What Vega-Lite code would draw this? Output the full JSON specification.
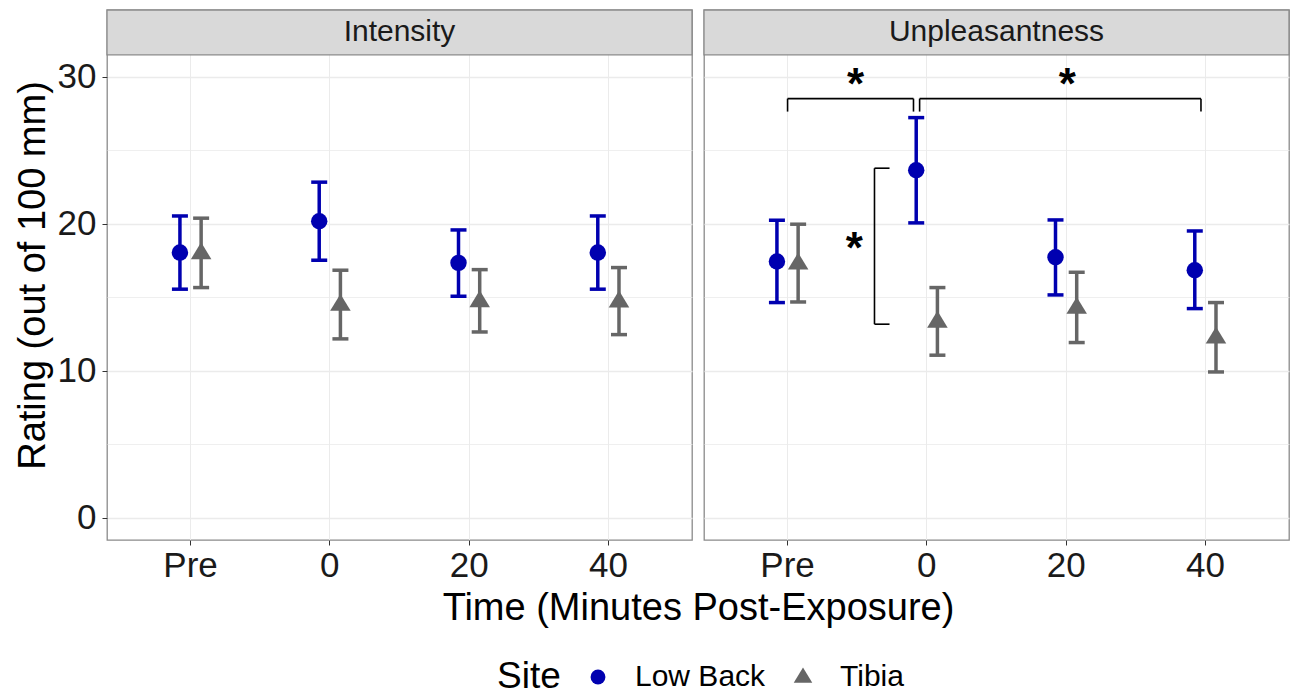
{
  "$schema": "https://vega.github.io/schema/vega-lite/v6.json",
  "padding": {"left": 13, "top": 8, "right": 0, "bottom": 0},
  "bounds": "flush",
  "data": {"values": [
    {"kind": "stat", "measure": "Intensity", "time": "Pre", "site": "Low Back", "mean": 18.05, "lower": 15.56, "upper": 20.54},
    {"kind": "stat", "measure": "Intensity", "time": "Pre", "site": "Tibia", "mean": 18.03, "lower": 15.67, "upper": 20.39},
    {"kind": "stat", "measure": "Intensity", "time": "0", "site": "Low Back", "mean": 20.18, "lower": 17.53, "upper": 22.84},
    {"kind": "stat", "measure": "Intensity", "time": "0", "site": "Tibia", "mean": 14.52, "lower": 12.18, "upper": 16.85},
    {"kind": "stat", "measure": "Intensity", "time": "20", "site": "Low Back", "mean": 17.35, "lower": 15.08, "upper": 19.59},
    {"kind": "stat", "measure": "Intensity", "time": "20", "site": "Tibia", "mean": 14.77, "lower": 12.65, "upper": 16.89},
    {"kind": "stat", "measure": "Intensity", "time": "40", "site": "Low Back", "mean": 18.05, "lower": 15.56, "upper": 20.54},
    {"kind": "stat", "measure": "Intensity", "time": "40", "site": "Tibia", "mean": 14.75, "lower": 12.47, "upper": 17.03},
    {"kind": "stat", "measure": "Unpleasantness", "time": "Pre", "site": "Low Back", "mean": 17.44, "lower": 14.65, "upper": 20.25},
    {"kind": "stat", "measure": "Unpleasantness", "time": "Pre", "site": "Tibia", "mean": 17.33, "lower": 14.69, "upper": 19.98},
    {"kind": "stat", "measure": "Unpleasantness", "time": "0", "site": "Low Back", "mean": 23.65, "lower": 20.07, "upper": 27.23},
    {"kind": "stat", "measure": "Unpleasantness", "time": "0", "site": "Tibia", "mean": 13.37, "lower": 11.07, "upper": 15.67},
    {"kind": "stat", "measure": "Unpleasantness", "time": "20", "site": "Low Back", "mean": 17.73, "lower": 15.17, "upper": 20.27},
    {"kind": "stat", "measure": "Unpleasantness", "time": "20", "site": "Tibia", "mean": 14.32, "lower": 11.93, "upper": 16.71},
    {"kind": "stat", "measure": "Unpleasantness", "time": "40", "site": "Low Back", "mean": 16.85, "lower": 14.24, "upper": 19.52},
    {"kind": "stat", "measure": "Unpleasantness", "time": "40", "site": "Tibia", "mean": 12.29, "lower": 9.93, "upper": 14.65},
    {"kind": "seg", "measure": "Unpleasantness", "ax": 1.0, "ax2": 1.904, "ay": 28.52, "ay2": 28.52},
    {"kind": "seg", "measure": "Unpleasantness", "ax": 1.0, "ax2": 1.0, "ay": 28.52, "ay2": 27.64},
    {"kind": "seg", "measure": "Unpleasantness", "ax": 1.904, "ax2": 1.904, "ay": 28.52, "ay2": 27.64},
    {"kind": "seg", "measure": "Unpleasantness", "ax": 1.948, "ax2": 3.968, "ay": 28.52, "ay2": 28.52},
    {"kind": "seg", "measure": "Unpleasantness", "ax": 1.948, "ax2": 1.948, "ay": 28.52, "ay2": 27.64},
    {"kind": "seg", "measure": "Unpleasantness", "ax": 3.968, "ax2": 3.968, "ay": 28.52, "ay2": 27.64},
    {"kind": "seg", "measure": "Unpleasantness", "ax": 1.624, "ax2": 1.624, "ay": 23.79, "ay2": 13.18},
    {"kind": "seg", "measure": "Unpleasantness", "ax": 1.624, "ax2": 1.732, "ay": 23.79, "ay2": 23.79},
    {"kind": "seg", "measure": "Unpleasantness", "ax": 1.624, "ax2": 1.732, "ay": 13.18, "ay2": 13.18},
    {"kind": "star", "measure": "Unpleasantness", "ax": 1.488, "ay": 29.82, "label": "*"},
    {"kind": "star", "measure": "Unpleasantness", "ax": 3.009, "ay": 29.82, "label": "*"},
    {"kind": "star", "measure": "Unpleasantness", "ax": 1.479, "ay": 18.65, "label": "*"}
  ]},
  "spacing": 12,
  "hconcat": [
    {
      "width": 585,
      "height": 530,
      "transform": [{"filter": "datum.kind === 'stat' && datum.measure === 'Intensity'"}],
      "layer": [
        {
          "transform": [{"aggregate": [{"op": "count", "as": "n"}], "groupby": ["measure"]}],
          "mark": {"type": "rect", "fill": "#D9D9D9", "stroke": "#8a8a8a", "strokeWidth": 1.3},
          "encoding": {
            "y": {"datum": 31.5, "type": "quantitative", "scale": {"domain": [-1.5, 34.55], "nice": false, "zero": false},
                  "title": "Rating (out of 100 mm)",
                  "axis": {"values": [0, 5, 10, 15, 20, 25, 30],
                           "labelExpr": "datum.value % 10 === 0 ? datum.label : ''",
                           "tickOpacity": {"condition": {"test": "datum.value % 10 === 0", "value": 1}, "value": 0},
                           "gridWidth": {"condition": {"test": "datum.value % 10 === 0", "value": 1.6}, "value": 0.8}}},
            "y2": {"datum": 34.55}
          }
        },
        {
          "transform": [{"aggregate": [{"op": "count", "as": "n"}], "groupby": ["measure"]}],
          "mark": {"type": "text", "fontSize": 30, "color": "#1A1A1A", "baseline": "middle"},
          "encoding": {
            "y": {"datum": 33.02, "type": "quantitative", "title": "Rating (out of 100 mm)"},
            "text": {"field": "measure"}
          }
        },
        {
          "mark": {"type": "rule", "strokeWidth": 3.5},
          "encoding": {
            "x": {"field": "time", "type": "nominal", "sort": ["Pre", "0", "20", "40"],
                  "scale": {"paddingInner": 0, "paddingOuter": 0.1},
                  "title": "Time (Minutes Post-Exposure)",
                  "axis": {"labelAngle": 0, "bandPosition": 0.5, "titleX": 591}},
            "xOffset": {"field": "site", "type": "nominal", "sort": ["Low Back", "Tibia"],
                  "scale": {"paddingInner": 0, "paddingOuter": 0, "range": [48.4, 90.8]}},
            "y": {"field": "lower", "type": "quantitative", "title": "Rating (out of 100 mm)"},
            "y2": {"field": "upper"},
            "color": {"field": "site", "type": "nominal", "title": "Site",
                      "scale": {"domain": ["Low Back", "Tibia"], "range": ["#0000B0", "#666666"]}}
          }
        },
        {
          "mark": {"type": "tick", "size": 16, "thickness": 3.5, "opacity": 1},
          "encoding": {
            "x": {"field": "time", "type": "nominal", "sort": ["Pre", "0", "20", "40"]},
            "xOffset": {"field": "site", "type": "nominal", "sort": ["Low Back", "Tibia"]},
            "y": {"field": "upper", "type": "quantitative", "title": "Rating (out of 100 mm)"},
            "color": {"field": "site", "type": "nominal"}
          }
        },
        {
          "mark": {"type": "tick", "size": 16, "thickness": 3.5, "opacity": 1},
          "encoding": {
            "x": {"field": "time", "type": "nominal", "sort": ["Pre", "0", "20", "40"]},
            "xOffset": {"field": "site", "type": "nominal", "sort": ["Low Back", "Tibia"]},
            "y": {"field": "lower", "type": "quantitative", "title": "Rating (out of 100 mm)"},
            "color": {"field": "site", "type": "nominal"}
          }
        },
        {
          "mark": {"type": "point", "filled": true, "opacity": 1, "size": 270},
          "encoding": {
            "x": {"field": "time", "type": "nominal", "sort": ["Pre", "0", "20", "40"]},
            "xOffset": {"field": "site", "type": "nominal", "sort": ["Low Back", "Tibia"]},
            "y": {"field": "mean", "type": "quantitative", "title": "Rating (out of 100 mm)"},
            "color": {"field": "site", "type": "nominal",
                      "legend": {
                        "orient": "none", "legendX": 390, "legendY": 652,
                        "encode": {"symbols": {
                          "shape": {"signal": "datum.value === 'Low Back' ? 'M-1,0A1,1,0,1,1,1,0A1,1,0,1,1,-1,0Z M-1.85,-0.22H1.85V0.22H-1.85Z' : 'M0,-1.28L1.25,0.77L-1.25,0.77Z M-1.85,0.05H1.85V0.49H-1.85Z'"}
                        }}
                      }},
            "shape": {"field": "site", "type": "nominal", "title": "Site",
                      "scale": {"domain": ["Low Back", "Tibia"], "range": ["circle", "M0,-1.28L1.25,0.77L-1.25,0.77Z"]}}
          }
        }
      ]
    },
    {
      "width": 585,
      "height": 530,
      "layer": [
        {
          "transform": [{"filter": "datum.kind === 'stat' && datum.measure === 'Unpleasantness'"}],
          "layer": [
            {
              "transform": [{"aggregate": [{"op": "count", "as": "n"}], "groupby": ["measure"]}],
              "mark": {"type": "rect", "fill": "#D9D9D9", "stroke": "#8a8a8a", "strokeWidth": 1.3},
              "encoding": {
                "y": {"datum": 31.5, "type": "quantitative", "scale": {"domain": [-1.5, 34.55], "nice": false, "zero": false},
                      "axis": {"values": [0, 5, 10, 15, 20, 25, 30], "labels": false, "ticks": false, "title": null,
                               "gridWidth": {"condition": {"test": "datum.value % 10 === 0", "value": 1.6}, "value": 0.8}}},
                "y2": {"datum": 34.55}
              }
            },
            {
              "transform": [{"aggregate": [{"op": "count", "as": "n"}], "groupby": ["measure"]}],
              "mark": {"type": "text", "fontSize": 30, "color": "#1A1A1A", "baseline": "middle"},
              "encoding": {
                "y": {"datum": 33.02, "type": "quantitative"},
                "text": {"field": "measure"}
              }
            },
            {
              "mark": {"type": "rule", "strokeWidth": 3.5},
              "encoding": {
                "x": {"field": "time", "type": "nominal", "sort": ["Pre", "0", "20", "40"],
                      "scale": {"paddingInner": 0, "paddingOuter": 0.1},
                      "title": null,
                      "axis": {"labelAngle": 0, "bandPosition": 0.5}},
                "xOffset": {"field": "site", "type": "nominal", "sort": ["Low Back", "Tibia"],
                      "scale": {"paddingInner": 0, "paddingOuter": 0, "range": [48.4, 90.8]}},
                "y": {"field": "lower", "type": "quantitative"},
                "y2": {"field": "upper"},
                "color": {"field": "site", "type": "nominal"}
              }
            },
            {
              "mark": {"type": "tick", "size": 16, "thickness": 3.5, "opacity": 1},
              "encoding": {
                "x": {"field": "time", "type": "nominal", "sort": ["Pre", "0", "20", "40"]},
                "xOffset": {"field": "site", "type": "nominal", "sort": ["Low Back", "Tibia"]},
                "y": {"field": "upper", "type": "quantitative"},
                "color": {"field": "site", "type": "nominal"}
              }
            },
            {
              "mark": {"type": "tick", "size": 16, "thickness": 3.5, "opacity": 1},
              "encoding": {
                "x": {"field": "time", "type": "nominal", "sort": ["Pre", "0", "20", "40"]},
                "xOffset": {"field": "site", "type": "nominal", "sort": ["Low Back", "Tibia"]},
                "y": {"field": "lower", "type": "quantitative"},
                "color": {"field": "site", "type": "nominal"}
              }
            },
            {
              "mark": {"type": "point", "filled": true, "opacity": 1, "size": 270},
              "encoding": {
                "x": {"field": "time", "type": "nominal", "sort": ["Pre", "0", "20", "40"]},
                "xOffset": {"field": "site", "type": "nominal", "sort": ["Low Back", "Tibia"]},
                "y": {"field": "mean", "type": "quantitative"},
                "color": {"field": "site", "type": "nominal"},
                "shape": {"field": "site", "type": "nominal"}
              }
            }
          ]
        },
        {
          "layer": [
            {
              "transform": [{"filter": "datum.kind === 'seg'"}],
              "mark": {"type": "rule", "color": "black", "strokeWidth": 1.6},
              "encoding": {
                "x": {"field": "ax", "type": "quantitative", "scale": {"domain": [0.4, 4.6], "nice": false, "zero": false}, "axis": null},
                "x2": {"field": "ax2"},
                "y": {"field": "ay", "type": "quantitative"},
                "y2": {"field": "ay2"}
              }
            },
            {
              "transform": [{"filter": "datum.kind === 'star'"}],
              "mark": {"type": "text", "fontSize": 44, "fontWeight": "bold", "color": "black", "baseline": "alphabetic", "dy": 19},
              "encoding": {
                "x": {"field": "ax", "type": "quantitative", "axis": null},
                "y": {"field": "ay", "type": "quantitative"},
                "text": {"field": "label"}
              }
            }
          ]
        }
      ],
      "resolve": {"scale": {"x": "independent"}}
    }
  ],
  "config": {
    "font": "Liberation Sans",
    "view": {"stroke": "#8a8a8a", "strokeWidth": 1.3},
    "axis": {
      "domain": false,
      "grid": true,
      "gridColor": "#EBEBEB",
      "tickColor": "#333333",
      "tickSize": 5,
      "labelFont": "Liberation Sans",
      "labelFontSize": 35,
      "labelColor": "#1A1A1A",
      "titleFont": "Liberation Sans",
      "titleFontSize": 38,
      "titleFontWeight": "normal",
      "titleColor": "#000000"
    },
    "axisX": {"labelPadding": 3, "titlePadding": 6},
    "axisY": {"labelPadding": 6, "titlePadding": 5},
    "legend": {
      "direction": "horizontal",
      "titleOrient": "left",
      "titleFont": "Liberation Sans",
      "titleFontSize": 37,
      "titleFontWeight": "normal",
      "titleColor": "#000000",
      "titlePadding": 22,
      "labelFont": "Liberation Sans",
      "labelFontSize": 30,
      "labelColor": "#000000",
      "labelOffset": 22,
      "columnPadding": 22,
      "symbolSize": 220,
      "symbolStrokeWidth": 0
    }
  }
}
